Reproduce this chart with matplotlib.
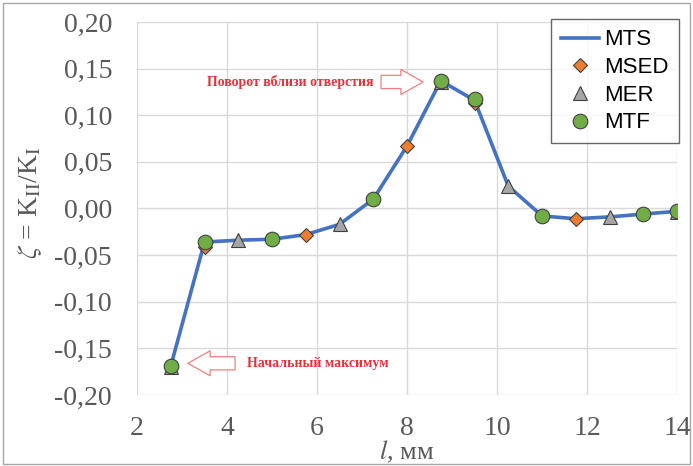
import numpy as np
import matplotlib.pyplot as plt
from matplotlib.patches import FancyArrowPatch, Rectangle

plt.rcParams['mathtext.fontset'] = 'stix'

# crack length positions, mm
l_mts = [2.75, 3.5, 4.25, 5.0, 5.75, 6.5, 7.25, 8.0, 8.75, 9.5, 10.25, 11.0, 11.75, 12.5, 13.25, 14.0]
zeta_mts = [-0.169, -0.036, -0.034, -0.033, -0.028, -0.017, 0.010, 0.067, 0.137, 0.116, 0.024,
            -0.008, -0.011, -0.009, -0.006, -0.003]

l_msed = [3.5, 5.75, 8.0, 9.5, 11.75]
zeta_msed = [-0.041, -0.028, 0.067, 0.113, -0.011]

l_mer = [2.75, 4.25, 6.5, 8.75, 10.25, 12.5, 14.0]
zeta_mer = [-0.170, -0.034, -0.017, 0.136, 0.024, -0.009, -0.004]

l_mtf = [2.75, 3.5, 5.0, 7.25, 8.75, 9.5, 11.0, 13.25, 14.0]
zeta_mtf = [-0.169, -0.036, -0.033, 0.010, 0.137, 0.117, -0.008, -0.006, -0.003]

xticks = [2, 4, 6, 8, 10, 12, 14]
yticks = [-0.20, -0.15, -0.10, -0.05, 0.00, 0.05, 0.10, 0.15, 0.20]

fig = plt.figure(figsize=(6.93, 4.66), dpi=100)
ax = fig.add_axes([0.1977, 0.1524, 0.7793, 0.8004])

ax.plot(l_mts, zeta_mts, color='#4472C4', lw=2.6, label='MTS', zorder=3)
ax.plot(l_msed, zeta_msed, 'D', ms=7.5, color='#ED7D31', mec='#404040', mew=0.8, label='MSED', zorder=4)
ax.plot(l_mer, zeta_mer, '^', ms=10, color='#A5A5A5', mec='#404040', mew=0.8, label='MER', zorder=4)
ax.plot(l_mtf, zeta_mtf, 'o', ms=10.5, color='#70AD47', mec='#404040', mew=0.8, label='MTF', zorder=5)

ax.set_xlim(2, 14)
ax.set_ylim(-0.20, 0.20)
ax.set_xticks(xticks)
ax.set_yticks(yticks)
ax.set_xticklabels([str(t) for t in xticks], family='Liberation Serif', fontsize=20, color='#595959')
ax.set_yticklabels([('%.2f' % t).replace('.', ',') for t in yticks],
                   family='Liberation Serif', fontsize=20, color='#595959')
ax.tick_params(axis='both', length=0)
ax.tick_params(axis='y', pad=18)
ax.tick_params(axis='x', pad=15)
ax.grid(True, color='#d9d9d9', lw=1.0)
ax.set_axisbelow(True)
for s in ax.spines.values():
    s.set_visible(False)

ax.set_ylabel(r'$\zeta$ = K$_{\rm II}$/K$_{\rm I}$', family='Liberation Serif', fontsize=20,
              color='#595959')
ax.yaxis.set_label_coords(-0.172, 0.517)
ax.set_xlabel(r'$l$, мм', family='Liberation Serif', fontsize=19, color='#595959')
ax.xaxis.set_label_coords(0.5, -0.118)

leg = ax.legend(loc='upper right', bbox_to_anchor=(1.003, 1.007), borderaxespad=0,
                frameon=True, fancybox=False,
                prop={'family': 'Liberation Sans', 'size': 16}, handlelength=1.7,
                handletextpad=0.25, borderpad=0.45, labelspacing=0.3)
leg.get_frame().set_edgecolor('#404040')
leg.get_frame().set_linewidth(1.0)

red = '#E8303A'
arrow_style = 'simple,head_length=1.6,head_width=1.8,tail_width=0.95'
ax.text(7.25, 0.1357, 'Поворот вблизи отверстия', family='Liberation Serif', weight='bold',
        fontsize=10, color=red, ha='right', va='center')
ax.add_patch(FancyArrowPatch((7.36, 0.1357), (8.42, 0.1357), arrowstyle=arrow_style,
                             mutation_scale=10, fc='white', ec='#F08080', lw=0.9, zorder=6))
ax.text(4.45, -0.166, 'Начальный максимум', family='Liberation Serif', weight='bold',
        fontsize=10, color=red, ha='left', va='center')
ax.add_patch(FancyArrowPatch((4.24, -0.166), (3.07, -0.166), arrowstyle=arrow_style,
                             mutation_scale=10, fc='white', ec='#F08080', lw=0.9, zorder=6))

fig.patches.append(Rectangle((0.004, 0.004), 0.992, 0.99, transform=fig.transFigure,
                             fill=False, ec='#a6a6a6', lw=1.0))

fig.savefig('out.png', dpi=100)
